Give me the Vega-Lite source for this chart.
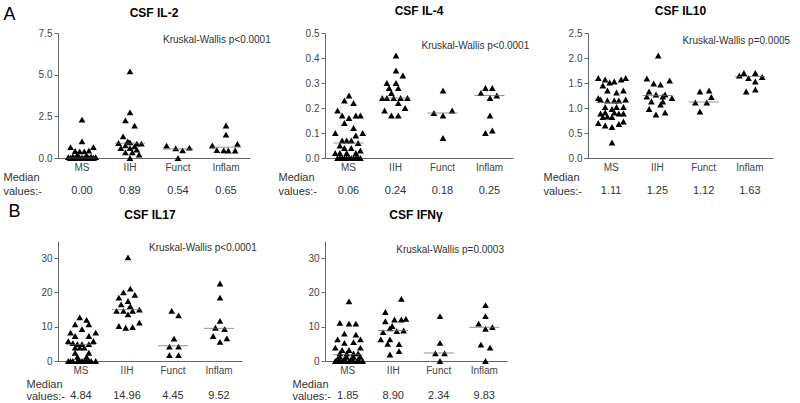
{
"$schema": "https://vega.github.io/schema/vega-lite/v6.json",
"padding": {"left": 3, "top": 5, "right": 0, "bottom": 0},
"config": {
 "font": "Liberation Sans",
 "view": {"stroke": null},
 "title": {"fontSize": 12, "fontWeight": "bold", "color": "#000", "frame": "group", "offset": 10},
 "axis": {"labelFontSize": 10, "labelColor": "#444", "domainColor": "#666", "tickColor": "#666", "grid": false},
 "axisX": {"ticks": false, "labelAngle": 0, "labelPadding": 4, "titleFontSize": 11, "titleFontWeight": "normal", "titleColor": "#333", "titleAlign": "left", "titleBaseline": "top", "titleLineHeight": 14, "titleAngle": 0},
 "axisY": {"tickSize": 4, "labelPadding": 2},
 "point": {"shape": "triangle-up", "filled": true, "color": "#000", "size": 45, "opacity": 1},
 "tick": {"orient": "horizontal", "thickness": 1, "color": "#666", "size": 30},
 "text": {"color": "#333"}
},
"bounds": "flush",
"columns": 3,
"spacing": {"row": 83, "column": 75},
"concat": [
  {"title": {"text": "CSF IL-2", "offset": -15}, "width": 192, "height": 125,
   "encoding": {
    "x": {"field": "g", "type": "nominal", "sort": ["MS","IIH","Funct","Inflam"], "scale": {"paddingInner": 0, "paddingOuter": 0}, "axis": {"title": ["Median","values:-"], "titleX": -55, "titleY": 13}}
   },
   "layer": [
    {"data": {"values": [
     {"g":"MS","v":2.3,"s":0},{"g":"MS","v":1.0,"s":0},{"g":"MS","v":0.65,"s":-5},{"g":"MS","v":0.65,"s":5},{"g":"MS","v":0.44,"s":3},{"g":"MS","v":0.42,"s":-3},{"g":"MS","v":0.4,"s":-1},{"g":"MS","v":0.4,"s":1},{"g":"MS","v":0.2,"s":-2},{"g":"MS","v":0.15,"s":2},{"g":"MS","v":0.1,"s":-4},{"g":"MS","v":0.1,"s":4},{"g":"MS","v":0.05,"s":-6},{"g":"MS","v":0.05,"s":6},
     {"g":"MS","v":0,"s":-5},{"g":"MS","v":0,"s":-4},{"g":"MS","v":0,"s":-3},{"g":"MS","v":0,"s":-2},{"g":"MS","v":0,"s":-1},{"g":"MS","v":0,"s":0},{"g":"MS","v":0,"s":1},{"g":"MS","v":0,"s":2},{"g":"MS","v":0,"s":3},{"g":"MS","v":0,"s":4},{"g":"MS","v":0,"s":5},{"g":"MS","v":0,"s":-5},{"g":"MS","v":0,"s":-3},{"g":"MS","v":0,"s":-1},{"g":"MS","v":0,"s":1},{"g":"MS","v":0,"s":3},{"g":"MS","v":0,"s":5},{"g":"MS","v":0,"s":0},{"g":"MS","v":0,"s":-2},{"g":"MS","v":0,"s":2},
     {"g":"IIH","v":5.2,"s":0},{"g":"IIH","v":2.74,"s":0},{"g":"IIH","v":2.26,"s":-2},{"g":"IIH","v":1.94,"s":2},{"g":"IIH","v":1.3,"s":-3},{"g":"IIH","v":1.0,"s":-1},{"g":"IIH","v":0.94,"s":0},{"g":"IIH","v":0.9,"s":-5},{"g":"IIH","v":0.86,"s":3},{"g":"IIH","v":0.86,"s":5},{"g":"IIH","v":0.76,"s":-2},{"g":"IIH","v":0.7,"s":2},{"g":"IIH","v":0.6,"s":-4},{"g":"IIH","v":0.6,"s":0},{"g":"IIH","v":0.5,"s":3},{"g":"IIH","v":0.34,"s":-2},{"g":"IIH","v":0.34,"s":1},{"g":"IIH","v":0.2,"s":4},{"g":"IIH","v":0.0,"s":0},
     {"g":"Funct","v":0.74,"s":-5},{"g":"Funct","v":0.58,"s":-1},{"g":"Funct","v":0.46,"s":2},{"g":"Funct","v":0.62,"s":5},{"g":"Funct","v":0.0,"s":0},
     {"g":"Inflam","v":1.95,"s":0},{"g":"Inflam","v":1.4,"s":0},{"g":"Inflam","v":0.85,"s":5},{"g":"Inflam","v":0.75,"s":-6},{"g":"Inflam","v":0.47,"s":-4},{"g":"Inflam","v":0.46,"s":-1},{"g":"Inflam","v":0.45,"s":1},{"g":"Inflam","v":0.45,"s":4}
    ]},
     "mark": "point",
     "encoding": {
      "y": {"field": "v", "type": "quantitative", "scale": {"domain": [0, 7.5], "nice": false}, "axis": {"values": [0,2.5,5,7.5], "format": ".1f", "title": "A", "titleAngle": 0, "titleX": -55, "titleY": -19, "titleAlign": "left", "titleBaseline": "middle", "titleFontSize": 18, "titleFontWeight": "normal", "titleColor": "#000"}},
      "xOffset": {"field": "s", "type": "nominal", "scale": {"domain": [-10,-9,-8,-7,-6,-5,-4,-3,-2,-1,0,1,2,3,4,5,6,7,8,9,10]}}}},
    {"data": {"values": [{"g":"MS","v":0.00},{"g":"IIH","v":0.89},{"g":"Funct","v":0.54},{"g":"Inflam","v":0.65}]},
     "encoding": {"y": {"field": "v", "type": "quantitative", "axis": {"values": [0,2.5,5,7.5], "format": ".1f", "title": "A", "titleAngle": 0, "titleX": -55, "titleY": -19, "titleAlign": "left", "titleBaseline": "middle", "titleFontSize": 18, "titleFontWeight": "normal", "titleColor": "#000"}}},
     "layer": [
     {"mark": "tick"},
     {"mark": {"type": "text", "dy": 33, "fontSize": 11}, "encoding": {"y": {"datum": 0, "type": "quantitative"}, "text": {"field": "v", "format": ".2f"}}}
    ]},
    {"data": {"values": [{"t": "Kruskal-Wallis p<0.0001"}]}, "mark": {"type": "text", "align": "left", "dx": 33, "fontSize": 10}, "encoding": {"x": {"datum": "IIH", "type": "nominal"}, "y": {"datum": 7.08, "type": "quantitative", "axis": {"values": [0,2.5,5,7.5], "format": ".1f", "title": "A", "titleAngle": 0, "titleX": -55, "titleY": -19, "titleAlign": "left", "titleBaseline": "middle", "titleFontSize": 18, "titleFontWeight": "normal", "titleColor": "#000"}}, "text": {"field": "t", "type": "nominal"}}}
   ]},
  {"title": {"text": "CSF IL-4"}, "width": 188, "height": 125,
   "encoding": {
    "x": {"field": "g", "type": "nominal", "sort": ["MS","IIH","Funct","Inflam"], "scale": {"paddingInner": 0, "paddingOuter": 0}, "axis": {"title": ["Median","values:-"], "titleX": -47, "titleY": 13}}
   },
   "layer": [
    {"data": {"values": [
     {"g":"MS","v":0.25,"s":0},{"g":"MS","v":0.23,"s":-2},{"g":"MS","v":0.22,"s":2},{"g":"MS","v":0.19,"s":-5},{"g":"MS","v":0.17,"s":-3},{"g":"MS","v":0.16,"s":0},{"g":"MS","v":0.17,"s":3},{"g":"MS","v":0.17,"s":5},{"g":"MS","v":0.14,"s":-2},{"g":"MS","v":0.12,"s":2},{"g":"MS","v":0.1,"s":-6},{"g":"MS","v":0.1,"s":6},{"g":"MS","v":0.09,"s":3},{"g":"MS","v":0.07,"s":-3},{"g":"MS","v":0.07,"s":-1},{"g":"MS","v":0.07,"s":1},{"g":"MS","v":0.06,"s":4},{"g":"MS","v":0.05,"s":-4},{"g":"MS","v":0.04,"s":-2},{"g":"MS","v":0.04,"s":1},{"g":"MS","v":0.03,"s":5},{"g":"MS","v":0.02,"s":-6},{"g":"MS","v":0.02,"s":-4},{"g":"MS","v":0.02,"s":-1},{"g":"MS","v":0.02,"s":3},
     {"g":"MS","v":0,"s":-5},{"g":"MS","v":0,"s":-4},{"g":"MS","v":0,"s":-3},{"g":"MS","v":0,"s":-2},{"g":"MS","v":0,"s":-1},{"g":"MS","v":0,"s":0},{"g":"MS","v":0,"s":1},{"g":"MS","v":0,"s":2},{"g":"MS","v":0,"s":3},{"g":"MS","v":0,"s":4},{"g":"MS","v":0,"s":5},
     {"g":"IIH","v":0.41,"s":0},{"g":"IIH","v":0.35,"s":0},{"g":"IIH","v":0.33,"s":3},{"g":"IIH","v":0.30,"s":-4},{"g":"IIH","v":0.30,"s":0},{"g":"IIH","v":0.28,"s":-3},{"g":"IIH","v":0.28,"s":1},{"g":"IIH","v":0.26,"s":-2},{"g":"IIH","v":0.24,"s":-6},{"g":"IIH","v":0.24,"s":-4},{"g":"IIH","v":0.24,"s":-1},{"g":"IIH","v":0.24,"s":2},{"g":"IIH","v":0.24,"s":5},{"g":"IIH","v":0.22,"s":1},{"g":"IIH","v":0.2,"s":4},{"g":"IIH","v":0.19,"s":-5},{"g":"IIH","v":0.17,"s":-2},{"g":"IIH","v":0.17,"s":1},
     {"g":"Funct","v":0.27,"s":0},{"g":"Funct","v":0.18,"s":-4},{"g":"Funct","v":0.19,"s":4},{"g":"Funct","v":0.17,"s":0},{"g":"Funct","v":0.08,"s":0},
     {"g":"Inflam","v":0.26,"s":-4},{"g":"Inflam","v":0.28,"s":-2},{"g":"Inflam","v":0.28,"s":1},{"g":"Inflam","v":0.24,"s":0},{"g":"Inflam","v":0.25,"s":3},{"g":"Inflam","v":0.17,"s":0},{"g":"Inflam","v":0.1,"s":-2},{"g":"Inflam","v":0.11,"s":1}
    ]},
     "mark": "point",
     "encoding": {
      "y": {"field": "v", "type": "quantitative", "scale": {"domain": [0, 0.5], "nice": false}, "axis": {"values": [0,0.1,0.2,0.3,0.4,0.5], "format": ".1f", "title": null}},
      "xOffset": {"field": "s", "type": "nominal", "scale": {"domain": [-10,-9,-8,-7,-6,-5,-4,-3,-2,-1,0,1,2,3,4,5,6,7,8,9,10]}}}},
    {"data": {"values": [{"g":"MS","v":0.06},{"g":"IIH","v":0.24},{"g":"Funct","v":0.18},{"g":"Inflam","v":0.25}]},
     "encoding": {"y": {"field": "v", "type": "quantitative", "axis": {"values": [0,0.1,0.2,0.3,0.4,0.5], "format": ".1f", "title": null}}},
     "layer": [
     {"mark": "tick"},
     {"mark": {"type": "text", "dy": 33, "fontSize": 11}, "encoding": {"y": {"datum": 0, "type": "quantitative"}, "text": {"field": "v", "format": ".2f"}}}
    ]},
    {"data": {"values": [{"t": "Kruskal-Wallis p<0.0001"}]}, "mark": {"type": "text", "align": "left", "dx": 26, "fontSize": 10}, "encoding": {"x": {"datum": "IIH", "type": "nominal"}, "y": {"datum": 0.448, "type": "quantitative", "axis": {"values": [0,0.1,0.2,0.3,0.4,0.5], "format": ".1f", "title": null}}, "text": {"field": "t", "type": "nominal"}}}
   ]},
  {"title": {"text": "CSF IL10"}, "width": 185, "height": 125,
   "encoding": {
    "x": {"field": "g", "type": "nominal", "sort": ["MS","IIH","Funct","Inflam"], "scale": {"paddingInner": 0, "paddingOuter": 0}, "axis": {"title": ["Median","values:-"], "titleX": -45, "titleY": 13}}
   },
   "layer": [
    {"data": {"values": [
     {"g":"MS","v":1.6,"s":-6},{"g":"MS","v":1.57,"s":-3},{"g":"MS","v":1.6,"s":6},{"g":"MS","v":1.57,"s":4},{"g":"MS","v":1.51,"s":-1},{"g":"MS","v":1.53,"s":1},{"g":"MS","v":1.45,"s":-4},{"g":"MS","v":1.35,"s":-2},{"g":"MS","v":1.35,"s":5},{"g":"MS","v":1.31,"s":2},{"g":"MS","v":1.2,"s":-6},{"g":"MS","v":1.17,"s":-5},{"g":"MS","v":1.15,"s":-2},{"g":"MS","v":1.15,"s":1},{"g":"MS","v":1.15,"s":3},{"g":"MS","v":1.17,"s":6},{"g":"MS","v":1.02,"s":-3},{"g":"MS","v":1.02,"s":2},{"g":"MS","v":1.02,"s":5},{"g":"MS","v":0.98,"s":0},{"g":"MS","v":0.91,"s":-3},{"g":"MS","v":0.89,"s":-5},{"g":"MS","v":0.91,"s":1},{"g":"MS","v":0.89,"s":3},{"g":"MS","v":0.89,"s":5},{"g":"MS","v":0.83,"s":-2},{"g":"MS","v":0.82,"s":0},{"g":"MS","v":0.82,"s":-4},{"g":"MS","v":0.7,"s":-6},{"g":"MS","v":0.65,"s":-3},{"g":"MS","v":0.62,"s":0},{"g":"MS","v":0.68,"s":3},{"g":"MS","v":0.73,"s":5},{"g":"MS","v":0.31,"s":0},
     {"g":"IIH","v":2.05,"s":0},{"g":"IIH","v":1.59,"s":-5},{"g":"IIH","v":1.49,"s":-2},{"g":"IIH","v":1.47,"s":1},{"g":"IIH","v":1.55,"s":5},{"g":"IIH","v":1.33,"s":-4},{"g":"IIH","v":1.27,"s":-1},{"g":"IIH","v":1.27,"s":3},{"g":"IIH","v":1.23,"s":-5},{"g":"IIH","v":1.23,"s":2},{"g":"IIH","v":1.2,"s":6},{"g":"IIH","v":1.13,"s":-3},{"g":"IIH","v":1.13,"s":2},{"g":"IIH","v":1.07,"s":1},{"g":"IIH","v":0.98,"s":-4},{"g":"IIH","v":0.87,"s":-1},{"g":"IIH","v":0.91,"s":3},
     {"g":"Funct","v":1.33,"s":-2},{"g":"Funct","v":1.35,"s":2},{"g":"Funct","v":1.22,"s":3},{"g":"Funct","v":1.11,"s":-4},{"g":"Funct","v":1.11,"s":1},{"g":"Funct","v":0.93,"s":-2},
     {"g":"Inflam","v":1.65,"s":-5},{"g":"Inflam","v":1.7,"s":-3},{"g":"Inflam","v":1.7,"s":2},{"g":"Inflam","v":1.6,"s":-1},{"g":"Inflam","v":1.62,"s":5},{"g":"Inflam","v":1.53,"s":2},{"g":"Inflam","v":1.33,"s":-2},{"g":"Inflam","v":1.37,"s":2}
    ]},
     "mark": "point",
     "encoding": {
      "y": {"field": "v", "type": "quantitative", "scale": {"domain": [0, 2.5], "nice": false}, "axis": {"values": [0,0.5,1,1.5,2,2.5], "format": ".1f", "title": null}},
      "xOffset": {"field": "s", "type": "nominal", "scale": {"domain": [-10,-9,-8,-7,-6,-5,-4,-3,-2,-1,0,1,2,3,4,5,6,7,8,9,10]}}}},
    {"data": {"values": [{"g":"MS","v":1.11},{"g":"IIH","v":1.25},{"g":"Funct","v":1.12},{"g":"Inflam","v":1.63}]},
     "encoding": {"y": {"field": "v", "type": "quantitative", "axis": {"values": [0,0.5,1,1.5,2,2.5], "format": ".1f", "title": null}}},
     "layer": [
     {"mark": "tick"},
     {"mark": {"type": "text", "dy": 33, "fontSize": 11}, "encoding": {"y": {"datum": 0, "type": "quantitative"}, "text": {"field": "v", "format": ".2f"}}}
    ]},
    {"data": {"values": [{"t": "Kruskal-Wallis p=0.0005"}]}, "mark": {"type": "text", "align": "left", "dx": 25, "fontSize": 10}, "encoding": {"x": {"datum": "IIH", "type": "nominal"}, "y": {"datum": 2.34, "type": "quantitative", "axis": {"values": [0,0.5,1,1.5,2,2.5], "format": ".1f", "title": null}}, "text": {"field": "t", "type": "nominal"}}}
   ]},
  {"title": {"text": "CSF IL17", "offset": -20}, "width": 184, "height": 120,
   "encoding": {
    "x": {"field": "g", "type": "nominal", "sort": ["MS","IIH","Funct","Inflam"], "scale": {"paddingInner": 0, "paddingOuter": 0}, "axis": {"title": ["Median","values:-"], "titleX": -32, "titleY": 17, "titleLineHeight": 12}}
   },
   "layer": [
    {"data": {"values": [
     {"g":"MS","v":12.7,"s":-1},{"g":"MS","v":12.0,"s":2},{"g":"MS","v":10.7,"s":-3},{"g":"MS","v":10.7,"s":3},{"g":"MS","v":9.3,"s":0},{"g":"MS","v":8.3,"s":-5},{"g":"MS","v":8.3,"s":6},{"g":"MS","v":7.3,"s":-3},{"g":"MS","v":7.3,"s":3},{"g":"MS","v":5.8,"s":-6},{"g":"MS","v":5.8,"s":5},{"g":"MS","v":5.2,"s":-4},{"g":"MS","v":4.9,"s":-2},{"g":"MS","v":4.9,"s":0},{"g":"MS","v":4.9,"s":3},{"g":"MS","v":3.9,"s":-3},{"g":"MS","v":3.9,"s":-1},{"g":"MS","v":3.9,"s":1},{"g":"MS","v":2.4,"s":-3},{"g":"MS","v":2.4,"s":3},{"g":"MS","v":1.2,"s":-2},{"g":"MS","v":1.2,"s":2},
     {"g":"MS","v":0,"s":-6},{"g":"MS","v":0,"s":-4},{"g":"MS","v":0,"s":-2},{"g":"MS","v":0,"s":0},{"g":"MS","v":0,"s":2},{"g":"MS","v":0,"s":4},{"g":"MS","v":0,"s":6},{"g":"MS","v":0,"s":-5},{"g":"MS","v":0,"s":-1},{"g":"MS","v":0,"s":1},{"g":"MS","v":0,"s":3},
     {"g":"IIH","v":30.2,"s":0},{"g":"IIH","v":21.1,"s":1},{"g":"IIH","v":20,"s":-2},{"g":"IIH","v":19.3,"s":3},{"g":"IIH","v":18.5,"s":-4},{"g":"IIH","v":17.5,"s":0},{"g":"IIH","v":16.5,"s":-3},{"g":"IIH","v":16,"s":1},{"g":"IIH","v":14.6,"s":-5},{"g":"IIH","v":14.6,"s":-2},{"g":"IIH","v":14.6,"s":2},{"g":"IIH","v":15,"s":5},{"g":"IIH","v":13.6,"s":0},{"g":"IIH","v":10.2,"s":-4},{"g":"IIH","v":9.7,"s":-1},{"g":"IIH","v":9.9,"s":2},{"g":"IIH","v":11.2,"s":5},
     {"g":"Funct","v":14.6,"s":-1},{"g":"Funct","v":13.3,"s":2},{"g":"Funct","v":6.5,"s":0},{"g":"Funct","v":4.2,"s":-2},{"g":"Funct","v":4.2,"s":2},{"g":"Funct","v":1.7,"s":-2},{"g":"Funct","v":1.7,"s":2},
     {"g":"Inflam","v":22.6,"s":0},{"g":"Inflam","v":18.5,"s":0},{"g":"Inflam","v":11.7,"s":0},{"g":"Inflam","v":9.7,"s":-2},{"g":"Inflam","v":9.3,"s":2},{"g":"Inflam","v":7.3,"s":-3},{"g":"Inflam","v":6.6,"s":3},{"g":"Inflam","v":5.6,"s":0}
    ]},
     "mark": "point",
     "encoding": {
      "y": {"field": "v", "type": "quantitative", "scale": {"domain": [0, 35], "nice": false}, "axis": {"values": [0,10,20,30], "format": "d", "title": "B", "titleAngle": 0, "titleX": -50, "titleY": -30, "titleAlign": "left", "titleBaseline": "middle", "titleFontSize": 18, "titleFontWeight": "normal", "titleColor": "#000"}},
      "xOffset": {"field": "s", "type": "nominal", "scale": {"domain": [-10,-9,-8,-7,-6,-5,-4,-3,-2,-1,0,1,2,3,4,5,6,7,8,9,10]}}}},
    {"data": {"values": [{"g":"MS","v":4.84},{"g":"IIH","v":14.96},{"g":"Funct","v":4.45},{"g":"Inflam","v":9.52}]},
     "encoding": {"y": {"field": "v", "type": "quantitative", "axis": {"values": [0,10,20,30], "format": "d", "title": "B", "titleAngle": 0, "titleX": -50, "titleY": -30, "titleAlign": "left", "titleBaseline": "middle", "titleFontSize": 18, "titleFontWeight": "normal", "titleColor": "#000"}}},
     "layer": [
     {"mark": "tick"},
     {"mark": {"type": "text", "dy": 35, "fontSize": 11}, "encoding": {"y": {"datum": 0, "type": "quantitative"}, "text": {"field": "v", "format": ".2f"}}}
    ]},
    {"data": {"values": [{"t": "Kruskal-Wallis p<0.0001"}]}, "mark": {"type": "text", "align": "left", "dx": 22, "fontSize": 10}, "encoding": {"x": {"datum": "IIH", "type": "nominal"}, "y": {"datum": 32.9, "type": "quantitative", "axis": {"values": [0,10,20,30], "format": "d", "title": "B", "titleAngle": 0, "titleX": -50, "titleY": -30, "titleAlign": "left", "titleBaseline": "middle", "titleFontSize": 18, "titleFontWeight": "normal", "titleColor": "#000"}}, "text": {"field": "t", "type": "nominal"}}}
   ]},
  {"title": {"text": "CSF IFNγ", "offset": 19}, "width": 182, "height": 120,
   "encoding": {
    "x": {"field": "g", "type": "nominal", "sort": ["MS","IIH","Funct","Inflam"], "scale": {"paddingInner": 0, "paddingOuter": 0}, "axis": {"title": ["Median","values:-"], "titleX": -33, "titleY": 17, "titleLineHeight": 12}}
   },
   "layer": [
    {"data": {"values": [
     {"g":"MS","v":17.4,"s":0},{"g":"MS","v":11.1,"s":-4},{"g":"MS","v":10.9,"s":0},{"g":"MS","v":10.9,"s":3},{"g":"MS","v":8,"s":-2},{"g":"MS","v":7.7,"s":3},{"g":"MS","v":6.3,"s":-5},{"g":"MS","v":6.3,"s":5},{"g":"MS","v":5.3,"s":-2},{"g":"MS","v":5.5,"s":2},{"g":"MS","v":3.9,"s":-6},{"g":"MS","v":3.9,"s":5},{"g":"MS","v":3.2,"s":-3},{"g":"MS","v":3.2,"s":0},{"g":"MS","v":2.2,"s":-4},{"g":"MS","v":2.2,"s":-1},{"g":"MS","v":2.2,"s":2},{"g":"MS","v":2.2,"s":4},{"g":"MS","v":1.2,"s":-4},{"g":"MS","v":1.2,"s":-1},{"g":"MS","v":1.2,"s":2},{"g":"MS","v":1.2,"s":5},{"g":"MS","v":0.6,"s":-5},{"g":"MS","v":0.6,"s":-2},{"g":"MS","v":0.6,"s":1},{"g":"MS","v":0.6,"s":4},
     {"g":"MS","v":0,"s":-6},{"g":"MS","v":0,"s":-4},{"g":"MS","v":0,"s":-2},{"g":"MS","v":0,"s":0},{"g":"MS","v":0,"s":2},{"g":"MS","v":0,"s":4},{"g":"MS","v":0,"s":6},{"g":"MS","v":0,"s":-3},
     {"g":"IIH","v":18.1,"s":3},{"g":"IIH","v":14.3,"s":-4},{"g":"IIH","v":12.1,"s":0},{"g":"IIH","v":12.1,"s":3},{"g":"IIH","v":11.6,"s":-4},{"g":"IIH","v":12.3,"s":5},{"g":"IIH","v":10.2,"s":-1},{"g":"IIH","v":9.5,"s":-2},{"g":"IIH","v":8.4,"s":-5},{"g":"IIH","v":8.7,"s":1},{"g":"IIH","v":8.9,"s":4},{"g":"IIH","v":6.3,"s":-6},{"g":"IIH","v":6.3,"s":-2},{"g":"IIH","v":5,"s":-3},{"g":"IIH","v":4.9,"s":2},{"g":"IIH","v":2.9,"s":2},{"g":"IIH","v":1.9,"s":-2},
     {"g":"Funct","v":13.1,"s":0},{"g":"Funct","v":5.3,"s":0},{"g":"Funct","v":2.2,"s":-2},{"g":"Funct","v":2.2,"s":2},{"g":"Funct","v":0,"s":0},
     {"g":"Inflam","v":16.3,"s":0},{"g":"Inflam","v":13.1,"s":0},{"g":"Inflam","v":10.9,"s":-3},{"g":"Inflam","v":9.4,"s":0},{"g":"Inflam","v":9.9,"s":3},{"g":"Inflam","v":4.8,"s":-2},{"g":"Inflam","v":3.9,"s":2},{"g":"Inflam","v":0,"s":0}
    ]},
     "mark": "point",
     "encoding": {
      "y": {"field": "v", "type": "quantitative", "scale": {"domain": [0, 35], "nice": false}, "axis": {"values": [0,10,20,30], "format": "d", "title": null}},
      "xOffset": {"field": "s", "type": "nominal", "scale": {"domain": [-10,-9,-8,-7,-6,-5,-4,-3,-2,-1,0,1,2,3,4,5,6,7,8,9,10]}}}},
    {"data": {"values": [{"g":"MS","v":1.85},{"g":"IIH","v":8.90},{"g":"Funct","v":2.34},{"g":"Inflam","v":9.83}]},
     "encoding": {"y": {"field": "v", "type": "quantitative", "axis": {"values": [0,10,20,30], "format": "d", "title": null}}},
     "layer": [
     {"mark": "tick"},
     {"mark": {"type": "text", "dy": 35, "fontSize": 11}, "encoding": {"y": {"datum": 0, "type": "quantitative"}, "text": {"field": "v", "format": ".2f"}}}
    ]},
    {"data": {"values": [{"t": "Kruskal-Wallis p=0.0003"}]}, "mark": {"type": "text", "align": "left", "dx": 3, "fontSize": 10}, "encoding": {"x": {"datum": "IIH", "type": "nominal"}, "y": {"datum": 32.3, "type": "quantitative", "axis": {"values": [0,10,20,30], "format": "d", "title": null}}, "text": {"field": "t", "type": "nominal"}}}
   ]}
]
}
